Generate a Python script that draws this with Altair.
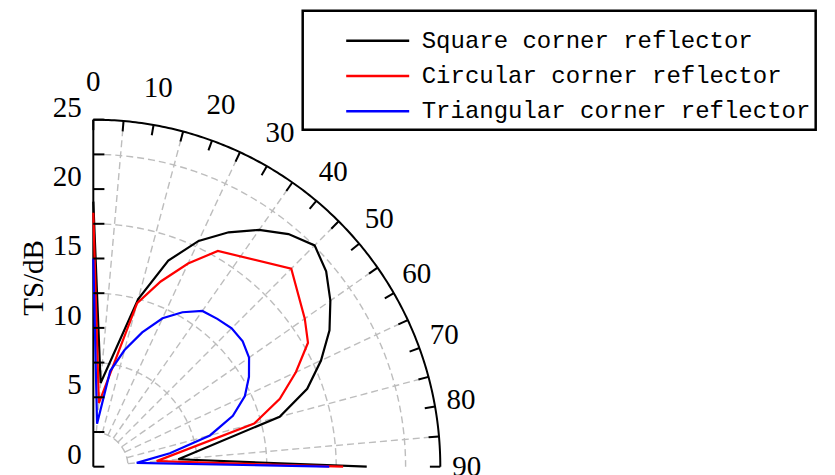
import math
import altair as alt
import pandas as pd

# ---------------- data ----------------
series_names = ["Square corner reflector", "Circular corner reflector", "Triangular corner reflector"]
series_colors = ["#000000", "#ff0000", "#0000ff"]

theta_square = [0, 5, 15, 20, 25, 30, 35, 40, 45, 50, 55, 60, 65, 70, 75, 85, 90]
ts_square = [19.1, 6.05, 12.5, 15.8, 17.95, 19.5, 20.83, 21.88, 22.55, 21.9, 20.85, 19.65, 18.1, 16.4, 13.9, 6.15, 19.7]

theta_circular = [0, 5, 15, 20, 25, 30, 45, 55, 60, 65, 70, 75, 85, 90]
ts_circular = [18.3, 4.6, 12.2, 14.2, 16.15, 17.95, 20.17, 18.6, 17.86, 16.1, 14.3, 12.0, 4.58, 18.0]

theta_triangular = [0, 5, 10, 15, 20, 25, 30, 35, 40, 45, 50, 55, 60, 65, 70, 75, 80, 85, 90]
ts_triangular = [15.0, 3.1, 7.0, 8.7, 10.3, 11.8, 12.85, 13.7, 13.9, 14.1, 14.05, 13.7, 12.95, 12.05, 10.7, 8.7, 5.6, 3.14, 17.0]

r_ticks = [0, 2.5, 5, 7.5, 10, 12.5, 15, 17.5, 20, 22.5, 25]
r_labels = [0, 5, 10, 15, 20, 25]
angle_labels = [0, 10, 20, 30, 40, 50, 60, 70, 80, 90]
angle_ticks = list(range(0, 95, 5))
grid_radii = [2.5, 7.5, 12.5, 17.5, 22.5]
grid_angles = [5, 15, 25, 35, 45, 55, 65, 75, 85]
r_max = 25
y_title = "TS/dB"

# ---------------- layout ----------------
K = 13.88              # pixels per radial unit
W, H = 733, 458.7
XMAX, YMAX = W / K, H / K
LABEL_RX, LABEL_RY = 26.9, 27.72
TICK_LEN = 0.75
SERIF = "Liberation Serif"

def px(r, t):
    return r * math.sin(math.radians(t))

def py(r, t):
    return r * math.cos(math.radians(t))

xs = alt.Scale(domain=[0, XMAX], nice=False, zero=False)
ys = alt.Scale(domain=[0, YMAX], nice=False, zero=False)

# ---------------- tables ----------------
rows = []
for name, th, ts in [(series_names[0], theta_square, ts_square),
                     (series_names[1], theta_circular, ts_circular),
                     (series_names[2], theta_triangular, ts_triangular)]:
    for i, (t, r) in enumerate(zip(th, ts)):
        rows.append({"series": name, "idx": i, "x": px(r, t), "y": py(r, t)})
df_data = pd.DataFrame(rows)

arc_rows = []
for r in grid_radii:
    for t in range(0, 91):
        arc_rows.append({"r": r, "t": t, "x": px(r, t), "y": py(r, t)})
df_arcs = pd.DataFrame(arc_rows)

df_spokes = pd.DataFrame([{"x": px(grid_radii[0], t), "y": py(grid_radii[0], t),
                           "x2": px(r_max, t), "y2": py(r_max, t)} for t in grid_angles])

df_outer = pd.DataFrame([{"t": t / 2, "x": px(r_max, t / 2), "y": py(r_max, t / 2)} for t in range(0, 181)])

df_otick = pd.DataFrame([{"x": px(r_max, t), "y": py(r_max, t),
                          "x2": px(r_max - TICK_LEN, t), "y2": py(r_max - TICK_LEN, t)} for t in angle_ticks])

df_yaxis = pd.DataFrame([{"x": 0, "y": 0, "y2": r_max}])
df_ytick = pd.DataFrame([{"x": 0, "x2": 0.8, "y": v} for v in r_ticks])
df_ylab = pd.DataFrame([{"x": 0, "y": v, "label": str(v)} for v in r_labels])
df_ytitle = pd.DataFrame([{"x": 0, "y": 13.6, "label": y_title}])

df_alab = pd.DataFrame([{"label": str(a), "x": LABEL_RX * math.sin(math.radians(a)),
                         "y": LABEL_RY * math.cos(math.radians(a))} for a in angle_labels])

X = lambda: alt.X("x:Q", scale=xs, axis=None)
Y = lambda: alt.Y("y:Q", scale=ys, axis=None)

# ---------------- layers ----------------
grid_arcs = alt.Chart(df_arcs).mark_line(color="#bdbdbd", strokeWidth=1.4, strokeDash=[7, 4]).encode(
    x=X(), y=Y(), detail="r:N", order="t:Q",
)

grid_spokes = alt.Chart(df_spokes).mark_rule(color="#bdbdbd", strokeWidth=1.4, strokeDash=[7, 4]).encode(
    x=X(), y=Y(), x2="x2:Q", y2="y2:Q",
)

y_axis = alt.Chart(df_yaxis).mark_rule(color="black", strokeWidth=2).encode(
    x=X(), y=Y(), y2="y2:Q",
)

y_ticks = alt.Chart(df_ytick).mark_rule(color="black", strokeWidth=2).encode(
    x=X(), x2="x2:Q", y=Y(),
)

y_labels = alt.Chart(df_ylab).mark_text(font=SERIF, fontSize=29, color="black", align="right",
                                        baseline="middle", dx=-11.6, dy=-12).encode(
    x=X(), y=Y(), text="label:N",
)

# rotated text: its local y axis points to the screen's right, so dy<0 moves it left
y_title_text = alt.Chart(df_ytitle).mark_text(font=SERIF, fontSize=29, color="black", align="center",
                                              baseline="middle", angle=270, dy=-59).encode(
    x=X(), y=Y(), text="label:N",
)

outer_arc = alt.Chart(df_outer).mark_line(color="black", strokeWidth=2).encode(
    x=X(), y=Y(), order="t:Q",
)

outer_ticks = alt.Chart(df_otick).mark_rule(color="black", strokeWidth=2).encode(
    x=X(), y=Y(), x2="x2:Q", y2="y2:Q",
)

lines = alt.Chart(df_data).mark_line(strokeWidth=2.2).encode(
    x=X(), y=Y(), order="idx:Q",
    color=alt.Color("series:N", scale=alt.Scale(domain=series_names, range=series_colors),
                    legend=alt.Legend(
                        orient="none", legendX=209.4, legendY=2.7,
                        title=" ", titleFontSize=2, titlePadding=10,
                        symbolType="stroke", symbolSize=3969, symbolStrokeWidth=2.5,
                        clipHeight=26, rowPadding=9.3, padding=5,
                        symbolOffset=37, labelOffset=11,
                        labelFont="Liberation Mono", labelFontSize=24, labelColor="black",
                        labelLimit=0, strokeColor="black", fillColor="white")),
)

angle_text = alt.Chart(df_alab).mark_text(font=SERIF, fontSize=29, color="black",
                                          align="center", baseline="middle").encode(
    x=X(), y=Y(), text="label:N",
)

chart = alt.layer(
    grid_arcs, grid_spokes, y_axis, lines, y_ticks, outer_arc, outer_ticks,
    angle_text, y_labels, y_title_text
).properties(
    width=W, height=H,
    autosize=alt.AutoSizeParams(type="none"),
    padding={"left": 85.3, "top": 0, "right": 0, "bottom": 8},
).configure_view(strokeWidth=0).configure_legend(strokeWidth=2.5)

chart.save("out.html", embed_options={"renderer": "svg", "actions": False})
